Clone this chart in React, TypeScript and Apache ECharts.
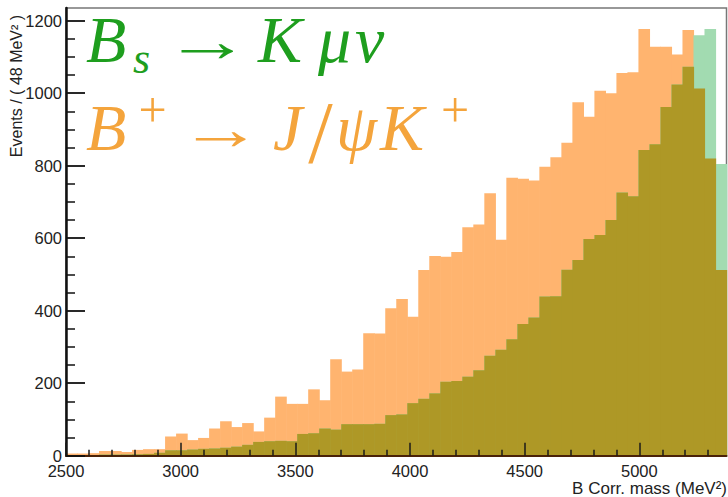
import React, { useEffect, useRef } from "react";
import * as echarts from "echarts";

// Histogram binning (MeV): 60 bins of 48 MeV from 2500
const BIN_START = 2500;
const BIN_WIDTH = 48;
const X_MIN = 2500;
const X_MAX = 5380;
const Y_MIN = 0;
const Y_MAX = 1235;

// B+ -> J/psi K+ (orange) events per bin
const bplusCounts = [
  6, 6, 7, 13, 13, 10, 16, 18, 18, 53,
  61, 43, 49, 75, 95, 79, 90, 67, 105, 163,
  143, 143, 183, 153, 266, 232, 238, 338, 337, 407,
  432, 383, 512, 551, 549, 562, 630, 638, 724, 596,
  767, 764, 759, 797, 823, 863, 975, 935, 1007, 1000,
  1056, 1058, 1177, 1128, 1128, 1107, 1174, 1013, 820, 512,
];

// Bs -> K mu nu (green) events per bin
const bsCounts = [
  2, 2, 2, 3, 3, 3, 4, 5, 8, 15,
  15, 17, 19, 20, 22, 25, 30, 38, 40, 41,
  40, 60, 62, 75, 72, 87, 87, 87, 88, 112,
  114, 145, 157, 172, 204, 206, 218, 236, 276, 292,
  321, 363, 381, 439, 440, 513, 540, 598, 609, 650,
  726, 716, 843, 859, 962, 1024, 1073, 1160, 1177, 805,
];

// Axis ticks
const xMajorTicks = [2500, 3000, 3500, 4000, 4500, 5000];
const xMinorTicks = [
  2600, 2700, 2800, 2900, 3100, 3200, 3300, 3400, 3600, 3700, 3800, 3900,
  4100, 4200, 4300, 4400, 4600, 4700, 4800, 4900, 5100, 5200, 5300,
];
const yMajorTicks = [0, 200, 400, 600, 800, 1000, 1200];
const yMinorTicks = [
  50, 100, 150, 250, 300, 350, 450, 500, 550, 650, 700, 750, 850, 900, 950,
  1050, 1100, 1150,
];

const COLOR_ORANGE = "#FFB46F";
const COLOR_GREEN = "#A2DBB1";
const COLOR_OVERLAP = "#AE9826";
const TEXT_GREEN = "#1E9E1E";
const TEXT_ORANGE = "#F4A43C";

function binData(values: number[]) {
  return values.map((v, i) => [
    BIN_START + i * BIN_WIDTH,
    BIN_START + (i + 1) * BIN_WIDTH,
    v,
  ]);
}

function histSeries(name: string, values: number[], color: string, z: number) {
  return {
    type: "custom",
    name,
    z,
    xAxisIndex: 0,
    yAxisIndex: 0,
    encode: { x: [0, 1], y: 2 },
    data: binData(values),
    renderItem: (params: any, api: any) => {
      const x0 = api.value(0);
      const x1 = api.value(1);
      const v = api.value(2);
      const p0 = api.coord([x0, v]);
      const p1 = api.coord([x1, 0]);
      return {
        type: "rect",
        shape: {
          x: p0[0],
          y: p0[1],
          width: p1[0] - p0[0] + 0.6,
          height: p1[1] - p0[1],
        },
        style: { fill: color },
      };
    },
  };
}

const SERIF = '"Liberation Serif", "DejaVu Serif", serif';

function glyph(
  text: string,
  x: number,
  y: number,
  size: number,
  color: string,
  italic: boolean,
  align: string = "left",
  scaleX: number = 1
) {
  return {
    type: "text",
    x,
    y,
    scaleX,
    z: 100,
    style: {
      text,
      font: `${italic ? "italic " : ""}${size}px ${SERIF}`,
      fill: color,
      textAlign: align,
      textVerticalAlign: "middle",
      verticalAlign: "middle",
    },
  };
}

const plain = (v: number) => String(v);

export default function App() {
  const ref = useRef<HTMLDivElement>(null);

  useEffect(() => {
    if (!ref.current) return;
    const chart = echarts.init(ref.current, undefined, { renderer: "svg" });
    const overlap = bplusCounts.map((v, i) => Math.min(v, bsCounts[i]));

    const axisFont = {
      fontSize: 16.5,
      color: "#222",
      fontFamily: '"Liberation Sans", Arial, sans-serif',
    };

    const option: any = {
      animation: false,
      backgroundColor: "#ffffff",
      grid: {
        left: 66,
        right: 1.5,
        top: 8,
        bottom: 41.3,
        show: true,
        borderColor: "#777",
        borderWidth: 1.5,
        backgroundColor: "transparent",
      },
      xAxis: [
        {
          type: "value",
          min: X_MIN,
          max: X_MAX,
          position: "bottom",
          z: 10,
          splitLine: { show: false },
          axisLine: { show: true, lineStyle: { color: "#4a2208", width: 2 } },
          axisTick: {
            show: true,
            inside: true,
            length: 13,
            customValues: xMajorTicks,
            lineStyle: { color: "#1a1a1a", width: 1.5 },
          },
          axisLabel: {
            ...axisFont,
            margin: 8,
            lineHeight: 14,
            customValues: xMajorTicks,
            formatter: plain,
          },
        },
        {
          type: "value",
          min: X_MIN,
          max: X_MAX,
          position: "bottom",
          offset: 0,
          z: 10,
          splitLine: { show: false },
          axisLine: { show: false },
          axisTick: {
            show: true,
            inside: true,
            length: 6,
            customValues: xMinorTicks,
            lineStyle: { color: "#1a1a1a", width: 1.5 },
          },
          axisLabel: { show: false },
        },
      ],
      yAxis: [
        {
          type: "value",
          min: Y_MIN,
          max: Y_MAX,
          position: "left",
          z: 10,
          splitLine: { show: false },
          axisLine: { show: true, lineStyle: { color: "#111", width: 2.5 } },
          axisTick: {
            show: true,
            inside: true,
            length: 19,
            customValues: yMajorTicks,
            lineStyle: { color: "#111", width: 1.8 },
          },
          axisLabel: {
            ...axisFont,
            margin: 4,
            lineHeight: 12,
            customValues: yMajorTicks,
            formatter: plain,
          },
        },
        {
          type: "value",
          min: Y_MIN,
          max: Y_MAX,
          position: "left",
          offset: 0,
          z: 10,
          splitLine: { show: false },
          axisLine: { show: false },
          axisTick: {
            show: true,
            inside: true,
            length: 9,
            customValues: yMinorTicks,
            lineStyle: { color: "#111", width: 1.5 },
          },
          axisLabel: { show: false },
        },
      ],
      series: [
        histSeries("B+ → J/ψK+", bplusCounts, COLOR_ORANGE, 1),
        histSeries("Bs → Kμν", bsCounts, COLOR_GREEN, 2),
        histSeries("overlap", overlap, COLOR_OVERLAP, 3),
      ],
      graphic: [
        // axis titles
        {
          type: "text",
          x: 16,
          y: 86,
          rotation: Math.PI / 2,
          z: 100,
          style: {
            text: "Events / ( 48 MeV² )",
            font: '16px "Liberation Sans", Arial, sans-serif',
            fill: "#222",
            textAlign: "center",
            textVerticalAlign: "middle",
            verticalAlign: "middle",
          },
        },
        {
          type: "text",
          x: 727,
          y: 488.5,
          z: 100,
          style: {
            text: "B Corr. mass (MeV²)",
            font: '17px "Liberation Sans", Arial, sans-serif',
            lineHeight: 15,
            fill: "#222",
            textAlign: "right",
            textVerticalAlign: "middle",
            verticalAlign: "middle",
          },
        },
        // Bs -> K mu nu
        glyph("B", 86, 39.7, 66, TEXT_GREEN, true),
        glyph("s", 133, 58.2, 44, TEXT_GREEN, true),
        glyph("→", 207.5, 41, 60, TEXT_GREEN, false, "center", 1.45),
        glyph("K", 258, 39.7, 66, TEXT_GREEN, true),
        glyph("μ", 318, 39.7, 66, TEXT_GREEN, true),
        glyph("ν", 355, 39.7, 66, TEXT_GREEN, true),
        // B+ -> J/psi K+
        glyph("B", 86, 127.7, 66, TEXT_ORANGE, true),
        glyph("+", 152.5, 110, 50, TEXT_ORANGE, false, "center"),
        glyph("→", 220.5, 129, 60, TEXT_ORANGE, false, "center", 1.4),
        glyph("J", 273, 127.7, 66, TEXT_ORANGE, true),
        glyph("/", 320.5, 132.5, 88, TEXT_ORANGE, false, "center"),
        glyph("ψ", 336, 127.7, 66, TEXT_ORANGE, true),
        glyph("K", 380, 127.7, 66, TEXT_ORANGE, true),
        glyph("+", 455, 110, 50, TEXT_ORANGE, false, "center"),
      ],
    };

    chart.setOption(option);
    return () => chart.dispose();
  }, []);

  return (
    <div
      ref={ref}
      style={{
        position: "fixed",
        left: 0,
        top: 0,
        width: 728,
        height: 497,
        background: "#fff",
      }}
    />
  );
}
